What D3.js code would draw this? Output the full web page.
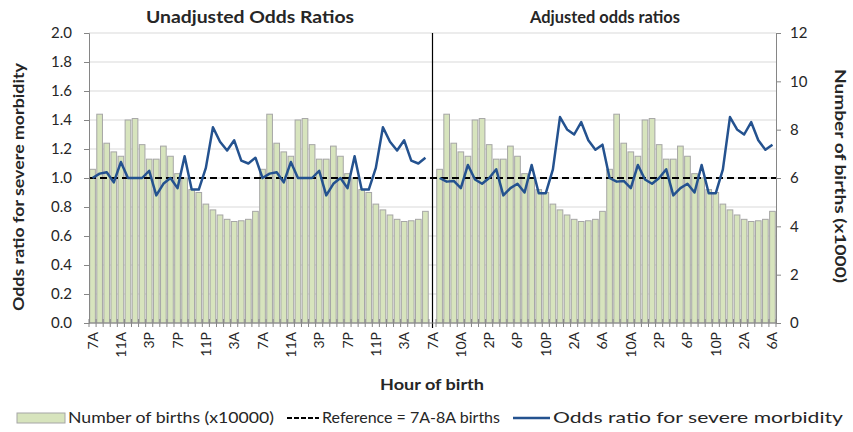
<!DOCTYPE html>
<html>
<head>
<meta charset="utf-8">
<script src="https://cdn.jsdelivr.net/npm/d3@7"></script>
<style>
  body { margin: 0; background: #fff; }
  svg { font-family: Lato, "Open Sans", sans-serif; }
</style>
</head>
<body>
<svg id="chart" width="853" height="432"></svg>
<script>
// hour of each category, one day = 24 bars, each panel shows two days
const hours = ["7A", "8A", "9A", "10A", "11A", "12P", "1P", "2P", "3P", "4P", "5P", "6P",
  "7P", "8P", "9P", "10P", "11P", "12A", "1A", "2A", "3A", "4A", "5A", "6A"];

// number of births (x1000), two days
const births = [
  6.36, 8.64, 7.44, 7.08, 6.9, 8.4, 8.46, 7.38, 6.78, 6.78, 7.32, 6.9,
  6.18, 6.0, 5.52, 5.4, 4.92, 4.68, 4.47, 4.29, 4.2, 4.23, 4.29, 4.62,
  6.36, 8.64, 7.44, 7.08, 6.9, 8.4, 8.46, 7.38, 6.78, 6.78, 7.32, 6.9,
  6.18, 6.0, 5.52, 5.4, 4.92, 4.68, 4.47, 4.29, 4.2, 4.23, 4.29, 4.62,
];

const oddsUnadjusted = [
  1.0, 1.03, 1.04, 0.97, 1.11, 1.0, 1.0, 1.0, 1.05, 0.88, 0.96, 1.0,
  0.93, 1.15, 0.92, 0.92, 1.07, 1.35, 1.25, 1.19, 1.26, 1.12, 1.1, 1.14,
  1.0, 1.03, 1.04, 0.97, 1.11, 1.0, 1.0, 1.0, 1.05, 0.88, 0.96, 1.0,
  0.93, 1.15, 0.92, 0.92, 1.07, 1.35, 1.25, 1.19, 1.26, 1.12, 1.1, 1.14,
];

const oddsAdjusted = [
  1.0, 0.975, 0.98, 0.93, 1.09, 0.99, 0.96, 1.0, 1.06, 0.88, 0.93, 0.96,
  0.9, 1.09, 0.895, 0.895, 1.06, 1.42, 1.335, 1.3, 1.385, 1.26, 1.195, 1.23,
  1.0, 0.975, 0.98, 0.93, 1.09, 0.99, 0.96, 1.0, 1.06, 0.88, 0.93, 0.96,
  0.9, 1.09, 0.895, 0.895, 1.06, 1.42, 1.335, 1.3, 1.385, 1.26, 1.195, 1.23,
];

const referenceValue = 1.0;
const oddsTicks = [0, 0.2, 0.4, 0.6, 0.8, 1.0, 1.2, 1.4, 1.6, 1.8, 2.0];
const birthTicks = [0, 2, 4, 6, 8, 10, 12];

// one empty category separates the two panels
const categories = [...hours, ...hours, "7A", ...hours, ...hours];
const gapIndex = 48;

const rows = categories.map((label, i) => {
  if (i < gapIndex) return { i, label, births: births[i], odds: oddsUnadjusted[i], panel: 0 };
  if (i === gapIndex) return { i, label, births: null, odds: null, panel: -1 };
  const k = i - gapIndex - 1;
  return { i, label, births: births[k], odds: oddsAdjusted[k], panel: 1 };
});

const svg = d3.select("#chart");
const plotLeft = 89, plotRight = 776, plotTop = 33, plotBottom = 323;
const ink = "#262626";

const x = d3.scaleBand()
  .domain(d3.range(categories.length))
  .range([plotLeft, plotRight])
  .paddingInner(0.2)
  .paddingOuter(0.1);
const cx = (i) => x(i) + x.bandwidth() / 2;

const yL = d3.scaleLinear().domain([0, 2]).range([plotBottom, plotTop]);
const yR = d3.scaleLinear().domain([0, 12]).range([plotBottom, plotTop]);

// grid
svg.append("g")
  .selectAll("line")
  .data(oddsTicks.slice(1))
  .join("line")
  .attr("x1", plotLeft).attr("x2", plotRight)
  .attr("y1", (d) => yL(d)).attr("y2", (d) => yL(d))
  .attr("stroke", "#d9d9d9");

// bars
svg.append("g")
  .selectAll("rect")
  .data(rows.filter((d) => d.births != null))
  .join("rect")
  .attr("x", (d) => x(d.i))
  .attr("width", x.bandwidth())
  .attr("y", (d) => yR(d.births))
  .attr("height", (d) => yR(0) - yR(d.births))
  .attr("fill", "#d7e4bd")
  .attr("stroke", "#a6a6a6")
  .attr("stroke-width", 1);

// reference line
svg.append("line")
  .attr("x1", plotLeft).attr("x2", plotRight)
  .attr("y1", yL(referenceValue)).attr("y2", yL(referenceValue))
  .attr("stroke", "#000")
  .attr("stroke-width", 2)
  .attr("stroke-dasharray", "7,4");

// odds lines, one per panel
const line = d3.line().x((d) => cx(d.i)).y((d) => yL(d.odds));
[0, 1].forEach((p) => {
  svg.append("path")
    .datum(rows.filter((d) => d.panel === p))
    .attr("d", line)
    .attr("fill", "none")
    .attr("stroke", "#24528f")
    .attr("stroke-width", 2.5)
    .attr("stroke-linejoin", "round");
});

// panel divider
svg.append("line")
  .attr("x1", cx(gapIndex)).attr("x2", cx(gapIndex))
  .attr("y1", plotTop).attr("y2", plotBottom + 5)
  .attr("stroke", "#000")
  .attr("stroke-width", 1.2);

// left axis
const axL = svg.append("g")
  .attr("transform", `translate(${plotLeft},0)`)
  .call(d3.axisLeft(yL).tickValues(oddsTicks).tickFormat(d3.format(".1f")).tickSize(5).tickPadding(12));
// right axis
const axR = svg.append("g")
  .attr("transform", `translate(${plotRight},0)`)
  .call(d3.axisRight(yR).tickValues(birthTicks).tickSize(5).tickPadding(9));
[axL, axR].forEach((g) => {
  g.select(".domain").attr("stroke", "#868686");
  g.selectAll(".tick line").attr("stroke", "#868686");
  g.selectAll(".tick text").attr("fill", ink).style("font-size", "15px").style("font-family", "Lato, sans-serif");
});

// bottom axis line and category ticks
svg.append("line")
  .attr("x1", plotLeft).attr("x2", plotRight)
  .attr("y1", plotBottom).attr("y2", plotBottom)
  .attr("stroke", "#868686");
const half = (x.step() - x.bandwidth()) / 2;
svg.append("g")
  .selectAll("line")
  .data(d3.range(categories.length + 1))
  .join("line")
  .attr("x1", (i) => (i < categories.length ? x(i) - half : x(i - 1) + x.bandwidth() + half))
  .attr("x2", (i) => (i < categories.length ? x(i) - half : x(i - 1) + x.bandwidth() + half))
  .attr("y1", plotBottom - 4).attr("y2", plotBottom + 4)
  .attr("stroke", "#868686");

svg.append("g")
  .selectAll("text")
  .data(rows.filter((d) => d.i % 4 === 0))
  .join("text")
  .attr("transform", (d) => `translate(${cx(d.i) + 5},${plotBottom + 9}) rotate(-90)`)
  .attr("text-anchor", "end")
  .style("font-size", "14px")
  .attr("fill", ink)
  .text((d) => d.label);

// titles (widths follow the reference)
function title(xPos, yPos, rot, size, len, txt, weight) {
  svg.append("text")
    .attr("transform", `translate(${xPos},${yPos}) rotate(${rot})`)
    .attr("text-anchor", "middle")
    .attr("textLength", len)
    .attr("lengthAdjust", "spacingAndGlyphs")
    .style("font-size", size + "px")
    .style("font-weight", weight)
    .attr("fill", ink)
    .text(txt);
}
title(250, 23, 0, 17, 208, "Unadjusted Odds Ratios", "bold");
title(605, 23, 0, 17, 150, "Adjusted odds ratios", "bold");
title(24, 187, -90, 15, 248, "Odds ratio for severe morbidity", "bold");
title(835, 176, 90, 15, 214, "Number of births (x1000)", "bold");
title(432, 390, 0, 16, 104, "Hour of birth", "bold");

// legend
const lg = svg.append("g").attr("transform", "translate(0,418)");
lg.append("rect").attr("x", 17).attr("y", -5).attr("width", 48).attr("height", 10)
  .attr("fill", "#d7e4bd").attr("stroke", "#a6a6a6");
lg.append("line").attr("x1", 287).attr("x2", 319).attr("y1", 0).attr("y2", 0)
  .attr("stroke", "#000").attr("stroke-width", 2).attr("stroke-dasharray", "5,2");
lg.append("line").attr("x1", 513).attr("x2", 550).attr("y1", 0).attr("y2", 0)
  .attr("stroke", "#24528f").attr("stroke-width", 2.5);
const legendItems = [
  { x: 68, len: 206, txt: "Number of births (x10000)" },
  { x: 322, len: 178, txt: "Reference = 7A-8A births" },
  { x: 553, len: 290, txt: "Odds ratio for severe morbidity" },
];
lg.selectAll("text.item")
  .data(legendItems)
  .join("text")
  .attr("class", "item")
  .attr("x", (d) => d.x).attr("y", 5)
  .attr("textLength", (d) => d.len)
  .attr("lengthAdjust", "spacingAndGlyphs")
  .style("font-size", "16px")
  .attr("fill", ink)
  .text((d) => d.txt);
</script>
</body>
</html>
